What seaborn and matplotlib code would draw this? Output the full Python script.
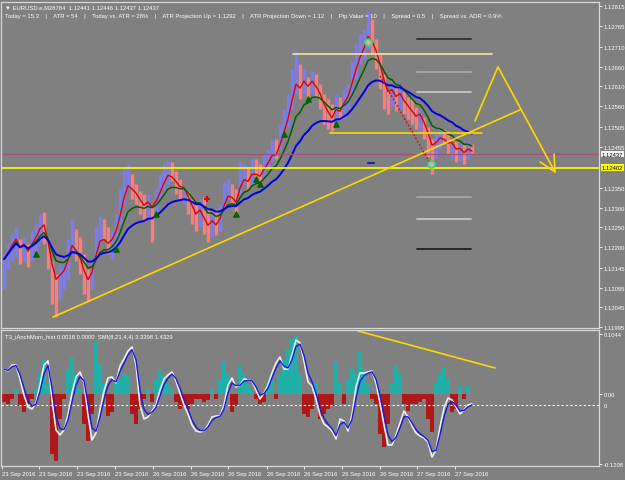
import numpy as np
import pandas as pd
import matplotlib
matplotlib.use('Agg')
import matplotlib.pyplot as plt
import seaborn as sns

sns.set_theme(style='dark')
FONT = ['Liberation Sans', 'DejaVu Sans']
plt.rcParams['font.family'] = FONT
FS = 4.2

# ---- price bars (EURUSD custom timeframe) ----
highs = [1.12181, 1.12207, 1.12232, 1.12250, 1.12220, 1.12225, 1.12207, 1.12240, 1.12258, 1.12284,
         1.12289, 1.12220, 1.12163, 1.12130, 1.12156, 1.12163, 1.12220, 1.12271, 1.12245, 1.12225,
         1.12181, 1.12143, 1.12168, 1.12250, 1.12278, 1.12271, 1.12250, 1.12240, 1.12284, 1.12348,
         1.12404, 1.12412, 1.12386, 1.12360, 1.12342, 1.12335, 1.12335, 1.12309, 1.12348, 1.12386,
         1.12412, 1.12419, 1.12417, 1.12394, 1.12373, 1.12353, 1.12342, 1.12322, 1.12309, 1.12322,
         1.12327, 1.12296, 1.12291, 1.12296, 1.12309, 1.12366, 1.12373, 1.12360, 1.12348, 1.12417,
         1.12412, 1.12404, 1.12424, 1.12424, 1.12412, 1.12437, 1.12450, 1.12476, 1.12476, 1.12514,
         1.12552, 1.12591, 1.12655, 1.12698, 1.12668, 1.12655, 1.12634, 1.12650, 1.12642, 1.12616,
         1.12591, 1.12578, 1.12565, 1.12591, 1.12583, 1.12604, 1.12616, 1.12675, 1.12719, 1.12744,
         1.12757, 1.12803, 1.12783, 1.12732, 1.12693, 1.12642, 1.12604, 1.12616, 1.12609, 1.12616,
         1.12598, 1.12583, 1.12578, 1.12558, 1.12552, 1.12532, 1.12506, 1.12476, 1.12488, 1.12506,
         1.12501, 1.12496, 1.12476, 1.12470, 1.12463, 1.12463, 1.12470, 1.12463]
lows = [1.12092, 1.12143, 1.12163, 1.12174, 1.12156, 1.12163, 1.12148, 1.12163, 1.12181, 1.12214,
        1.12207, 1.12143, 1.12053, 1.12020, 1.12066, 1.12092, 1.12117, 1.12181, 1.12163, 1.12130,
        1.12079, 1.12058, 1.12092, 1.12163, 1.12207, 1.12220, 1.12181, 1.12168, 1.12194, 1.12258,
        1.12309, 1.12348, 1.12322, 1.12309, 1.12284, 1.12266, 1.12271, 1.12212, 1.12284, 1.12322,
        1.12348, 1.12360, 1.12368, 1.12335, 1.12322, 1.12309, 1.12284, 1.12258, 1.12240, 1.12250,
        1.12232, 1.12212, 1.12225, 1.12230, 1.12240, 1.12291, 1.12322, 1.12309, 1.12284, 1.12335,
        1.12360, 1.12348, 1.12360, 1.12373, 1.12360, 1.12373, 1.12399, 1.12419, 1.12424, 1.12450,
        1.12488, 1.12506, 1.12552, 1.12591, 1.12578, 1.12591, 1.12578, 1.12591, 1.12583, 1.12552,
        1.12514, 1.12501, 1.12496, 1.12514, 1.12527, 1.12527, 1.12552, 1.12591, 1.12629, 1.12668,
        1.12680, 1.12706, 1.12693, 1.12655, 1.12604, 1.12552, 1.12540, 1.12558, 1.12547, 1.12552,
        1.12540, 1.12527, 1.12514, 1.12501, 1.12496, 1.12476, 1.12430, 1.12386, 1.12424, 1.12450,
        1.12463, 1.12437, 1.12424, 1.12417, 1.12419, 1.12412, 1.12424, 1.12437]
closes = [1.12168, 1.12194, 1.12220, 1.12240, 1.12168, 1.12220, 1.12163, 1.12232, 1.12250, 1.12278,
          1.12271, 1.12156, 1.12066, 1.12058, 1.12143, 1.12156, 1.12207, 1.12258, 1.12174, 1.12143,
          1.12092, 1.12079, 1.12163, 1.12240, 1.12271, 1.12225, 1.12194, 1.12232, 1.12271, 1.12335,
          1.12394, 1.12404, 1.12335, 1.12322, 1.12296, 1.12284, 1.12327, 1.12284, 1.12335, 1.12373,
          1.12399, 1.12412, 1.12373, 1.12348, 1.12335, 1.12348, 1.12296, 1.12271, 1.12250, 1.12309,
          1.12245, 1.12225, 1.12284, 1.12240, 1.12296, 1.12353, 1.12366, 1.12322, 1.12296, 1.12404,
          1.12404, 1.12360, 1.12412, 1.12386, 1.12373, 1.12424, 1.12437, 1.12463, 1.12437, 1.12501,
          1.12540, 1.12578, 1.12642, 1.12680, 1.12591, 1.12650, 1.12591, 1.12642, 1.12591, 1.12565,
          1.12527, 1.12514, 1.12506, 1.12583, 1.12540, 1.12598, 1.12609, 1.12668, 1.12706, 1.12732,
          1.12744, 1.12783, 1.12706, 1.12668, 1.12616, 1.12565, 1.12552, 1.12609, 1.12558, 1.12604,
          1.12547, 1.12540, 1.12527, 1.12514, 1.12547, 1.12488, 1.12450, 1.12412, 1.12476, 1.12496,
          1.12470, 1.12450, 1.12470, 1.12424, 1.12455, 1.12424, 1.12463, 1.12437]

# ---- T3_iAnchMom histogram and SMI(8,21,4,4) ----
hist = [-0.0138, -0.0173, -0.0087, 0.0087, -0.0208, -0.0311, -0.0173, -0.0087, 0.0087, 0.0346,
        0.0606, 0.0173, -0.1038, -0.1159, -0.0433, -0.0087, 0.0433, 0.0640, 0.0346, 0.0087,
        -0.0519, -0.0813, -0.0346, 0.0900, 0.0519, 0.0173, -0.0381, -0.0311, 0.0173, 0.0260,
        0.0346, 0.0311, -0.0346, -0.0519, -0.0260, -0.0087, 0.0087, -0.0138, 0.0260, 0.0433,
        0.0311, 0.0173, 0.0087, -0.0138, -0.0260, -0.0208, -0.0260, -0.0173, -0.0087, -0.0087,
        -0.0138, -0.0104, 0.0087, -0.0087, 0.0260, 0.0554, 0.0346, -0.0311, -0.0208, 0.0484,
        0.0346, 0.0173, 0.0087, -0.0087, -0.0173, -0.0138, 0.0173, 0.0260, -0.0087, 0.0346,
        0.0606, 0.0779, 0.0952, 0.1003, 0.0346, -0.0346, -0.0398, -0.0260, 0.0173, -0.0433,
        -0.0346, -0.0260, -0.0208, 0.0554, 0.0173, -0.0173, 0.0260, 0.0467, 0.0346, 0.0744,
        0.0433, 0.0173, -0.0087, -0.0173, -0.0692, -0.0917, -0.0519, 0.0173, 0.0484, 0.0346,
        -0.0173, -0.0294, -0.0173, -0.0173, -0.0138, -0.0087, -0.0433, -0.0657, 0.0173, 0.0346,
        0.0467, 0.0260, -0.0311, -0.0260, 0.0138, -0.0087, 0.0138, 0.0018]
smi = [36, 34, 40, 40, 26, 10, -2, -4, 2, 20,
       40, 44, 5, -25, -30, -25, -10, 12, 28, 33,
       22, -10, -35, -28, -5, 14, 27, 28, 22, 39,
       46, 54, 58, 40, 0, -14, -12, -6, 0, 15,
       26, 30, 33, 24, 12, 0, -9, -20, -26, -27,
       -26, -20, -12, -11, -11, 0, 20, 27, 18, 20,
       26, 25, 24, 15, 6, 12, 20, 32, 42, 48,
       36, 36, 50, 65, 62, 44, 23, 19, 6, -10,
       -19, -22, -26, -34, -14, -16, -26, -10, 18, 32,
       32, 33, 34, 22, 2, -20, -40, -40, -30, -18,
       -6, -12, -21, -28, -31, -33, -37, -52, -45, -22,
       -3, 7, 5, -2, -9, -5, 0, 1]

price_ticks = [1.12815, 1.12765, 1.12710, 1.12660, 1.12610, 1.12560, 1.12505, 1.12455,
               1.12350, 1.12300, 1.12250, 1.12200, 1.12145, 1.12095, 1.12045, 1.11995]
date_labels = ['23 Sep 2016'] * 4 + ['26 Sep 2016'] * 7 + ['27 Sep 2016'] * 2
date_pos = [-0.5, 8.75, 18.25, 27.75, 37.25, 46.75, 56, 65.75, 75, 84.5, 94, 103.25, 112.75]

bid = 1.12437
support = 1.12402
# drawn objects: (bar, price)
trend_up = ([12.25, 129.0], [1.12020, 1.12550])
zigzag = ([117.75, 123.5, 137.75], [1.12522, 1.12660, 1.12391])
arrow_head = ([134.0, 137.75, 137.5], [1.12417, 1.12391, 1.12437])
top_level = ([72.25, 122.0], [1.12693, 1.12693])
mid_level = ([81.5, 119.5], [1.12491, 1.12491])
red_dots = ([94.0, 106.5], [1.12637, 1.12414])
atr_levels = [1.12732, 1.12647, 1.12596, 1.12327, 1.12271, 1.12194]
atr_colors = ['#303030', '#a8a8a8', '#c4c4c4', '#a8a8a8', '#c4c4c4', '#202020']
atr_span = [103.25, 116.75]
buy_arrows = [8, 28, 38, 58, 63, 64, 70, 76, 83]
osc_trend = ([88.5, 122.75], [0.109, 0.045])

bg = '#808080'
frame = '#d8d8d8'
n = len(closes)
x = np.arange(n)
opens = [closes[0]] + closes[:-1]
up = [c >= o for c, o in zip(closes, opens)]

fig = plt.figure(figsize=(6.25, 4.81), dpi=100)
fig.patch.set_facecolor(bg)
ax = fig.add_axes([1 / 625, 1 - 329 / 481, 598 / 625, 326 / 481])
axi = fig.add_axes([1 / 625, 1 - 467 / 481, 598 / 625, 136 / 481])

for a in (ax, axi):
    a.set_facecolor(bg)
    a.grid(False)
    for s in a.spines.values():
        s.set_color(frame)
        s.set_linewidth(0.9)
    a.set_xlim(-0.75, 148.75)

# main panel
ax.set_ylim(1.11992, 1.12826)
ax.vlines(x, lows, highs, colors=['#7a7aff' if u else '#ff7c7c' for u in up], linewidth=2.4)

df = pd.DataFrame({'bar': x, 'close': closes})
df['fast'] = df['close'].ewm(span=4).mean()
df['mid'] = df['close'].ewm(span=10).mean()
df['slow'] = df['close'].ewm(span=21).mean()
sns.lineplot(data=df, x='bar', y='fast', ax=ax, color='#e00000', linewidth=1.0)
sns.lineplot(data=df, x='bar', y='mid', ax=ax, color='#006000', linewidth=1.1)
sns.lineplot(data=df, x='bar', y='slow', ax=ax, color='#0000dd', linewidth=1.4)

ax.scatter(buy_arrows, [lows[i] for i in buy_arrows], marker='^', s=14, color='#006400', zorder=5)
ax.scatter([91, 106.75], [1.12724, 1.12412], s=22, color='#ff9ad0', edgecolors='#30e070', linewidths=1.5, zorder=5)
ax.scatter([50.75], [1.12322], marker='+', s=25, color='#e00000', zorder=5)
ax.plot([91, 92.5], [1.12414, 1.12414], color='#2020a0', linewidth=1.5)

ax.axhline(bid, color='#a4507c', linewidth=0.9)
ax.axhline(support, color='#ffff00', linewidth=1.2)
ax.plot(*trend_up, color='#ffd700', linewidth=1.2)
ax.plot(*zigzag, color='#ffd700', linewidth=1.2)
ax.plot(*arrow_head, color='#ffd700', linewidth=1.2)
ax.plot(*top_level, color='#f0e8a0', linewidth=1.2)
ax.plot(*mid_level, color='#ffd700', linewidth=1.2)
ax.plot(*red_dots, color='#e00000', linewidth=0.9, linestyle=(0, (1.5, 1.5)))
for lvl, c in zip(atr_levels, atr_colors):
    ax.plot(atr_span, [lvl, lvl], color=c, linewidth=1.3)

ax.yaxis.tick_right()
ax.set_yticks(price_ticks)
ax.set_yticklabels(['%.5f' % p for p in price_ticks])
ax.tick_params(axis='y', colors='white', labelsize=FS, length=2, width=0.6, pad=1.2, right=True)
ax.set_xticks([])
ax.set_xlabel('')
ax.set_ylabel('')
tr = ax.get_yaxis_transform()
ax.text(1.004, bid, '%.5f' % bid, transform=tr, fontsize=FS, va='center', ha='left', color='black',
        bbox=dict(boxstyle='square,pad=0.15', fc='#f4f4f4', ec='none'))
ax.text(1.004, support, '%.5f' % support, transform=tr, fontsize=FS, va='center', ha='left', color='black',
        bbox=dict(boxstyle='square,pad=0.15', fc='#ffff00', ec='none'))

ax.text(0.006, 0.992, '\u25bc EURUSD.e,M28784  1.12441 1.12446 1.12437 1.12437', transform=ax.transAxes,
        fontsize=FS, color='white', va='top', ha='left')
ax.text(0.006, 0.965, 'Today = 15.3    |    ATR = 54    |    Today vs. ATR = 28%    |    ATR Projection Up = 1.1292    |    '
        'ATR Projection Down = 1.12    |    Pip Value = 10    |    Spread = 0.5    |    Spread vs. ADR = 0.9%',
        transform=ax.transAxes, fontsize=FS, color='white', va='top', ha='left')

# indicator panel
axi.set_ylim(-0.1246, 0.1107)
axi.bar(x, hist, width=0.95, color=['#20b0a8' if v >= 0 else '#b01818' for v in hist], linewidth=0)
axi.plot(*osc_trend, color='#ffd700', linewidth=1.2)
axi.set_xticks(date_pos)
axi.set_xticklabels(date_labels)
for lbl in axi.get_xticklabels():
    lbl.set_ha('left')
axi.tick_params(axis='x', colors='white', labelsize=FS, length=2, width=0.6, pad=1.5, bottom=True)
axi.text(0.006, 0.97, 'T3_iAnchMom_hist 0.0018 0.0000  SMI(8,21,4,4) 3.3398 1.4329', transform=axi.transAxes,
         fontsize=FS, color='white', va='top', ha='left')

axs = axi.twinx()
axs.set_ylim(-61, 75)
axs.set_xlim(-0.75, 148.75)
sdf = pd.DataFrame({'bar': x, 'smi': smi})
sdf['signal'] = sdf['smi'].ewm(span=2).mean()
axs.axhline(0, color='white', linewidth=0.8, linestyle=(0, (2, 2)))
sns.lineplot(data=sdf, x='bar', y='smi', ax=axs, color='#f0f0f0', linewidth=1.2)
sns.lineplot(data=sdf, x='bar', y='signal', ax=axs, color='#1818e0', linewidth=1.0)
axs.set_yticks([0])
axs.set_yticklabels(['0'])
axs.tick_params(axis='y', colors='white', labelsize=FS, length=0, pad=3.2)
axs.set_ylabel('')
axs.grid(False)
for s in axs.spines.values():
    s.set_visible(False)

# twinx moves the host ticks to the left; put them back on the right
axi.yaxis.tick_right()
axi.set_yticks([0.1044, 0.0, -0.1208])
axi.set_yticklabels(['0.1044', '0.00', '-0.1208'])
axi.tick_params(axis='y', colors='white', labelsize=FS, length=2, width=0.6, pad=1.2,
                left=False, labelleft=False, right=True, labelright=True)
axi.set_ylabel('')

fig.savefig('out.png', dpi=100, facecolor=bg)
